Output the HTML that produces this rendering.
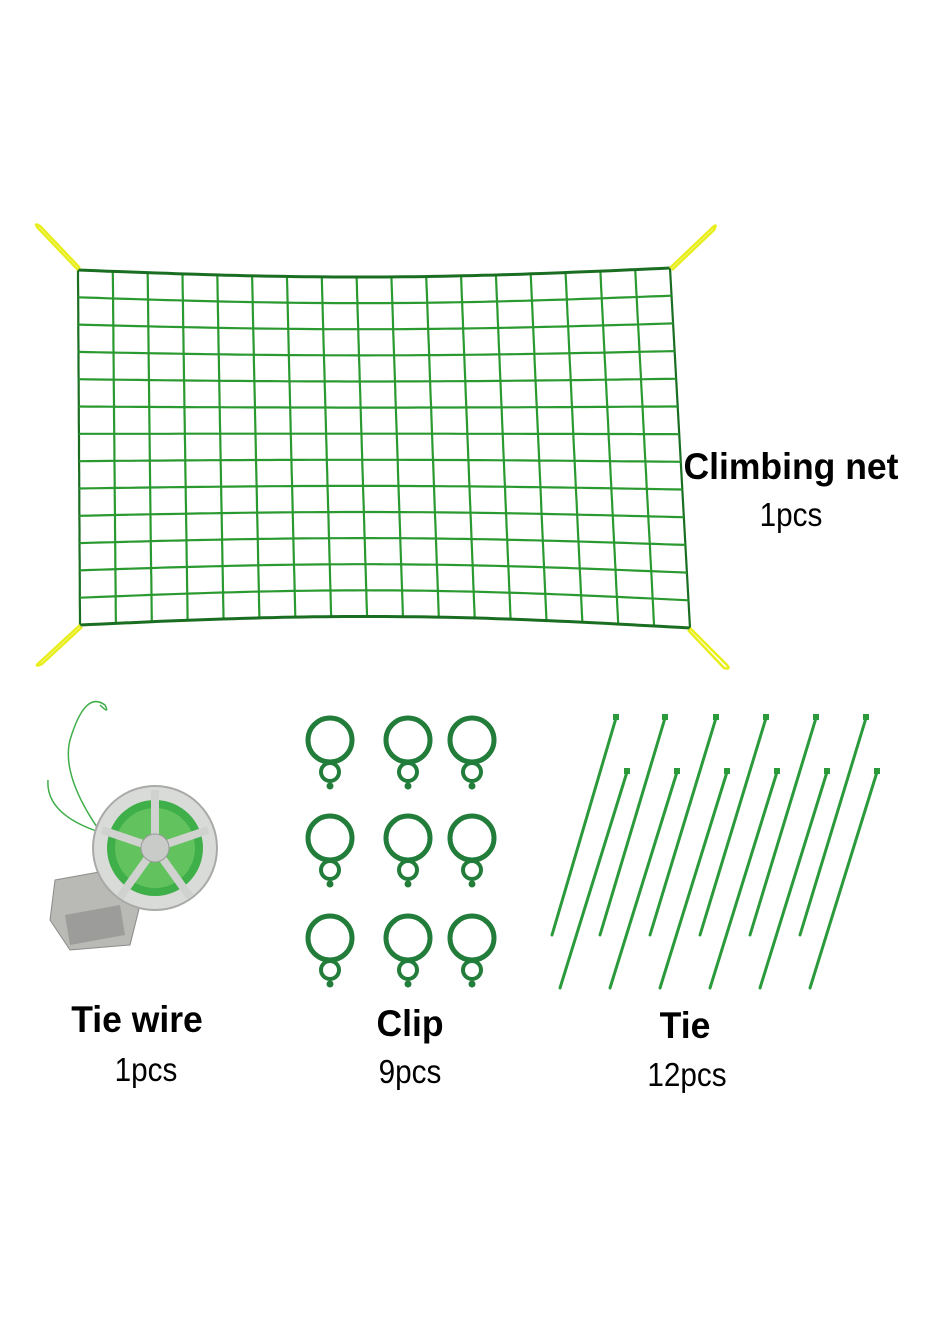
<!DOCTYPE html>
<html><head><meta charset="utf-8">
<style>
html,body{margin:0;padding:0;background:#fff;}
svg{display:block}
.b{font-family:"Liberation Sans",sans-serif;font-weight:bold;fill:#000}
.n{font-family:"Liberation Sans",sans-serif;fill:#000}
</style></head>
<body>
<svg id="s" width="930" height="1320" viewBox="0 0 930 1320" xmlns="http://www.w3.org/2000/svg">
<rect width="930" height="1320" fill="#fff"/>
<g id="net" fill="none" stroke="#2a9a30" stroke-width="2.2"></g>
<g fill="none" stroke="#e8ee1a" stroke-width="2.5">
<path d="M78 270 L38 228 Q33 222 40 226 L80 268"/>
<path d="M670 268 L712 228 Q718 222 714 230 L672 270"/>
<path d="M80 625 L40 662 Q33 668 42 664 L82 627"/>
<path d="M690 628 L726 664 Q732 670 724 668 L688 630"/>
</g>
<text class="b" x="791" y="479" font-size="37" text-anchor="middle" transform="translate(791 0) scale(0.96 1) translate(-791 0)">Climbing net</text>
<text class="n" x="791" y="526" font-size="33" text-anchor="middle" transform="translate(791 0) scale(0.9 1) translate(-791 0)">1pcs</text>
<text class="b" x="137" y="1032" font-size="37" text-anchor="middle" transform="translate(137 0) scale(0.96 1) translate(-137 0)">Tie wire</text>
<text class="n" x="146" y="1081" font-size="33" text-anchor="middle" transform="translate(146 0) scale(0.9 1) translate(-146 0)">1pcs</text>
<text class="b" x="410" y="1036" font-size="37" text-anchor="middle" transform="translate(410 0) scale(0.96 1) translate(-410 0)">Clip</text>
<text class="n" x="410" y="1083" font-size="33" text-anchor="middle" transform="translate(410 0) scale(0.9 1) translate(-410 0)">9pcs</text>
<text class="b" x="685" y="1038" font-size="37" text-anchor="middle" transform="translate(685 0) scale(0.96 1) translate(-685 0)">Tie</text>
<text class="n" x="687" y="1086" font-size="33" text-anchor="middle" transform="translate(687 0) scale(0.9 1) translate(-687 0)">12pcs</text>
<path d="M110 845 Q60 780 70 740 Q85 690 105 705 Q110 715 100 705 M120 838 Q45 820 48 780" fill="none" stroke="#3fae49" stroke-width="1.5"/>
<polygon points="55,880 110,870 140,905 130,945 70,950 50,920" fill="#b9b9b6" stroke="#8a8a88"/>
<polygon points="65,915 120,905 125,935 70,945" fill="#9c9d9a"/>
<circle cx="155" cy="848" r="62" fill="#d9dbd8" stroke="#a9aaa7" stroke-width="2"/>
<circle cx="155" cy="848" r="48" fill="#3faf4a"/>
<circle cx="155" cy="848" r="40" fill="#62c25e"/>
<g stroke="#d0d2cf" stroke-width="8">
<line x1="155" y1="848" x2="155" y2="790"/><line x1="155" y1="848" x2="208" y2="830"/>
<line x1="155" y1="848" x2="190" y2="897"/><line x1="155" y1="848" x2="120" y2="897"/>
<line x1="155" y1="848" x2="102" y2="830"/></g>
<circle cx="155" cy="848" r="14" fill="#c9cbc8" stroke="#999" />
<g id="clips" fill="none" stroke="#237d3a" stroke-width="5"></g>
<g id="ties" stroke="#2a9a3a" stroke-width="3" stroke-linecap="round"></g>
</svg>
<script>
(function(){
var NS="http://www.w3.org/2000/svg";
function el(p,t,a){var e=document.createElementNS(NS,t);for(var k in a)e.setAttribute(k,a[k]);document.getElementById(p).appendChild(e);return e;}
var TL=[78,270],TR=[670,268],BL=[80,625],BR=[690,628];
function pt(u,v){var x=TL[0]*(1-u)*(1-v)+TR[0]*u*(1-v)+BL[0]*(1-u)*v+BR[0]*u*v;
var y=TL[1]*(1-u)*(1-v)+TR[1]*u*(1-v)+BL[1]*(1-u)*v+BR[1]*u*v;
var s=Math.sin(Math.PI*u);
y+= s*(1-v)*8 - s*v*10;
return [x,y];}
var C=17,R=13,d,k,p;
for(var i=0;i<=C;i++){d="";for(k=0;k<=40;k++){p=pt(i/C,k/40);d+=(k?"L":"M")+p[0].toFixed(1)+" "+p[1].toFixed(1);}el("net","path",{d:d,stroke:(i==0||i==C)?"#1a6e22":"#2a9a30"});}
for(var j=0;j<=R;j++){d="";for(k=0;k<=60;k++){p=pt(k/60,j/R);d+=(k?"L":"M")+p[0].toFixed(1)+" "+p[1].toFixed(1);}el("net","path",{d:d,"stroke-width":(j==0||j==R)?3:2.2,stroke:(j==0||j==R)?"#1a6e22":"#2a9a30"});}
var cx=[330,408,472],cy=[740,838,938];
cx.forEach(function(x){cy.forEach(function(y){
el("clips","circle",{cx:x,cy:y,r:22});el("clips","circle",{cx:x,cy:y+32,r:9,"stroke-width":4});
el("clips","circle",{cx:x,cy:y+46,r:3.5,fill:"#237d3a",stroke:"none"});});});
var tl=[[616,718,552,935],[665,718,600,935],[716,718,650,935],[766,718,700,935],[816,718,750,935],[866,718,800,935],
[627,772,560,988],[677,772,610,988],[727,772,660,988],[777,772,710,988],[827,772,760,988],[877,772,810,988]];
tl.forEach(function(t){el("ties","line",{x1:t[0],y1:t[1],x2:t[2],y2:t[3]});
el("ties","rect",{x:t[0]-3,y:t[1]-4,width:6,height:6,fill:"#2a9a3a",stroke:"none"});});
})();
</script>
</body></html>
